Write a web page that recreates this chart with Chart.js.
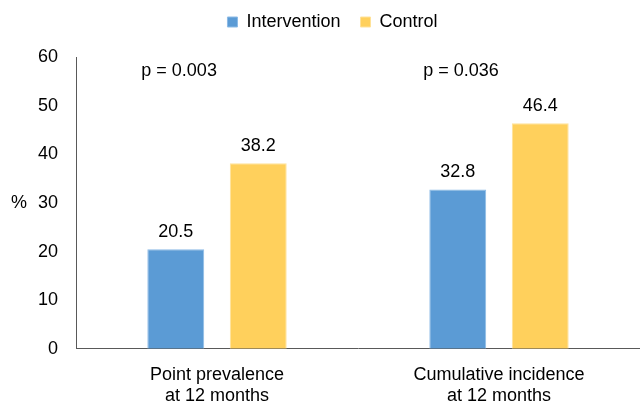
<!DOCTYPE html>
<html>
<head>
<meta charset="utf-8">
<script src="https://cdn.jsdelivr.net/npm/chart.js@4"></script>
<style>
  html, body { margin: 0; padding: 0; background: #fff; }
  #wrap { width: 640px; height: 406px; position: relative; }
</style>
</head>
<body>
<div id="wrap"><canvas id="chart"></canvas></div>
<script>
const categories = [
  ["Point prevalence", "at 12 months"],
  ["Cumulative incidence", "at 12 months"],
];
const intervention = [20.5, 32.8];
const control = [38.2, 46.4];
const pValues = ["p = 0.003", "p = 0.036"];
const yTicks = { min: 0, max: 60, step: 10 };
const yUnit = "%";

const FONT = "'Liberation Sans', Arial, sans-serif";

// value labels on bars, p values, and the "%" unit
const annotations = {
  id: "annotations",
  afterDatasetsDraw(chart) {
    const { ctx, scales } = chart;
    ctx.save();
    ctx.fillStyle = "#000";
    ctx.font = `18px ${FONT}`;
    ctx.textAlign = "center";
    ctx.textBaseline = "middle";
    chart.data.datasets.forEach((ds, i) => {
      chart.getDatasetMeta(i).data.forEach((bar, j) => {
        ctx.fillText(ds.data[j].toFixed(1), bar.x, bar.y - 17);
      });
    });

    const first = chart.getDatasetMeta(0).data;
    ctx.textAlign = "left";
    pValues.forEach((txt, j) => {
      const bar = first[j];
      ctx.fillText(txt, bar.x - bar.width / 2 - 6, scales.y.getPixelForValue(yTicks.max) + 14);
    });

    ctx.fillText(yUnit, 11, scales.y.getPixelForValue(30));
    ctx.restore();
  },
};

new Chart(document.getElementById("chart"), {
  type: "bar",
  data: {
    labels: categories,
    datasets: [
      {
        label: "Intervention",
        data: intervention,
        backgroundColor: "#5B9BD5",
        borderColor: "#8DBBE6",
        borderWidth: 1,
      },
      {
        label: "Control",
        data: control,
        backgroundColor: "#FFD05C",
        borderColor: "#FFE29A",
        borderWidth: 1,
      },
    ],
  },
  options: {
    responsive: true,
    maintainAspectRatio: false,
    animation: false,
    layout: { padding: { left: 20, right: -5, top: -7, bottom: -16 } },
    datasets: {
      bar: { categoryPercentage: 0.585, barPercentage: 0.69 },
    },
    plugins: {
      tooltip: { enabled: false },
      legend: {
        position: "top",
        labels: {
          boxWidth: 10,
          boxHeight: 10,
          padding: 20,
          color: "#000",
          font: { family: FONT, size: 18 },
        },
      },
      // empty spacer between legend and plot
      subtitle: {
        display: true,
        text: "",
        weight: 500,
        font: { size: 1 },
        padding: { top: 0, bottom: 15 },
      },
    },
    scales: {
      x: {
        grid: { display: false, drawTicks: false },
        border: { display: true, color: "#595959", width: 1 },
        ticks: {
          color: "#000",
          padding: 15,
          maxRotation: 0,
          font: { family: FONT, size: 18, lineHeight: 1.2 },
        },
      },
      y: {
        min: yTicks.min,
        max: yTicks.max,
        grid: { display: false, drawTicks: false },
        border: { display: true, color: "#595959", width: 1 },
        ticks: {
          stepSize: yTicks.step,
          color: "#000",
          padding: 18,
          font: { family: FONT, size: 18 },
        },
      },
    },
  },
  plugins: [annotations],
});
</script>
</body>
</html>
